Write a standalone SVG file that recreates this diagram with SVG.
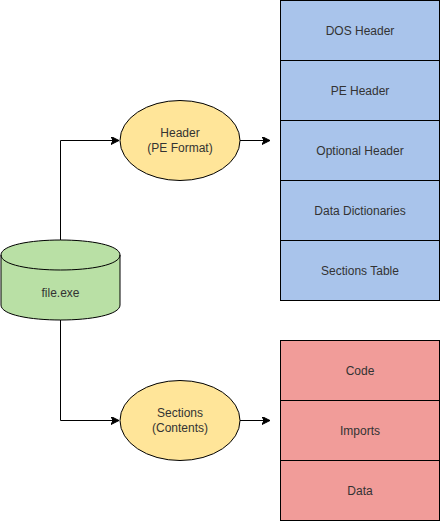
<svg xmlns="http://www.w3.org/2000/svg" width="441" height="521" viewBox="0 0 441 521">
<defs>
<style>
text{font-family:"Liberation Sans",Arial,sans-serif;font-size:12px;fill:#333333;text-anchor:middle}
.blue{fill:#A9C4EB;stroke:#000;stroke-width:1}
.red{fill:#F19C99;stroke:#000;stroke-width:1}
.ell{fill:#FFE599;stroke:#000;stroke-width:1}
.cyl{fill:#B9E0A5;stroke:#000;stroke-width:1}
.edge{fill:none;stroke:#000;stroke-width:1}
</style>
<marker id="arr" markerWidth="10" markerHeight="10" refX="8" refY="4" orient="auto" markerUnits="userSpaceOnUse">
<path d="M0,0 L8,4 L0,8 L2,4 Z" fill="#000" stroke="#000" stroke-width="1"/>
</marker>
</defs>
<g id="connectors">
<path class="edge" d="M60.5,240 L60.5,140.5 L119,140.5" marker-end="url(#arr)"/>
<path class="edge" d="M240,140.5 L270,140.5" marker-end="url(#arr)"/>
<path class="edge" d="M60.5,320 L60.5,420.5 L119,420.5" marker-end="url(#arr)"/>
<path class="edge" d="M240,420.5 L270,420.5" marker-end="url(#arr)"/>
</g>
<g id="file-exe">
<path class="cyl" d="M1,255 C1,235 120,235 120,255 L120,305 C120,325 1,325 1,305 Z"/>
<path class="edge" d="M1,255 C1,275 120,275 120,255"/>
<text x="60.5" y="297">file.exe</text>
</g>
<g id="header">
<ellipse class="ell" cx="180" cy="140.5" rx="60" ry="40"/>
<text x="180" y="137">Header</text>
<text x="180" y="152">(PE Format)</text>
</g>
<g id="sections">
<ellipse class="ell" cx="180" cy="420.5" rx="60" ry="40"/>
<text x="180" y="417">Sections</text>
<text x="180" y="432">(Contents)</text>
</g>
<g id="dos-header"><rect class="blue" x="280.5" y="0.5" width="159" height="60"/><text x="360" y="34.5">DOS Header</text></g>
<g id="pe-header"><rect class="blue" x="280.5" y="60.5" width="159" height="60"/><text x="360" y="94.5">PE Header</text></g>
<g id="optional-header"><rect class="blue" x="280.5" y="120.5" width="159" height="60"/><text x="360" y="154.5">Optional Header</text></g>
<g id="data-dictionaries"><rect class="blue" x="280.5" y="180.5" width="159" height="60"/><text x="360" y="214.5">Data Dictionaries</text></g>
<g id="sections-table"><rect class="blue" x="280.5" y="240.5" width="159" height="60"/><text x="360" y="274.5">Sections Table</text></g>
<g id="code"><rect class="red" x="280.5" y="340.5" width="159" height="60"/><text x="360" y="374.5">Code</text></g>
<g id="imports"><rect class="red" x="280.5" y="400.5" width="159" height="60"/><text x="360" y="434.5">Imports</text></g>
<g id="data"><rect class="red" x="280.5" y="460.5" width="159" height="60"/><text x="360" y="494.5">Data</text></g>
</svg>
